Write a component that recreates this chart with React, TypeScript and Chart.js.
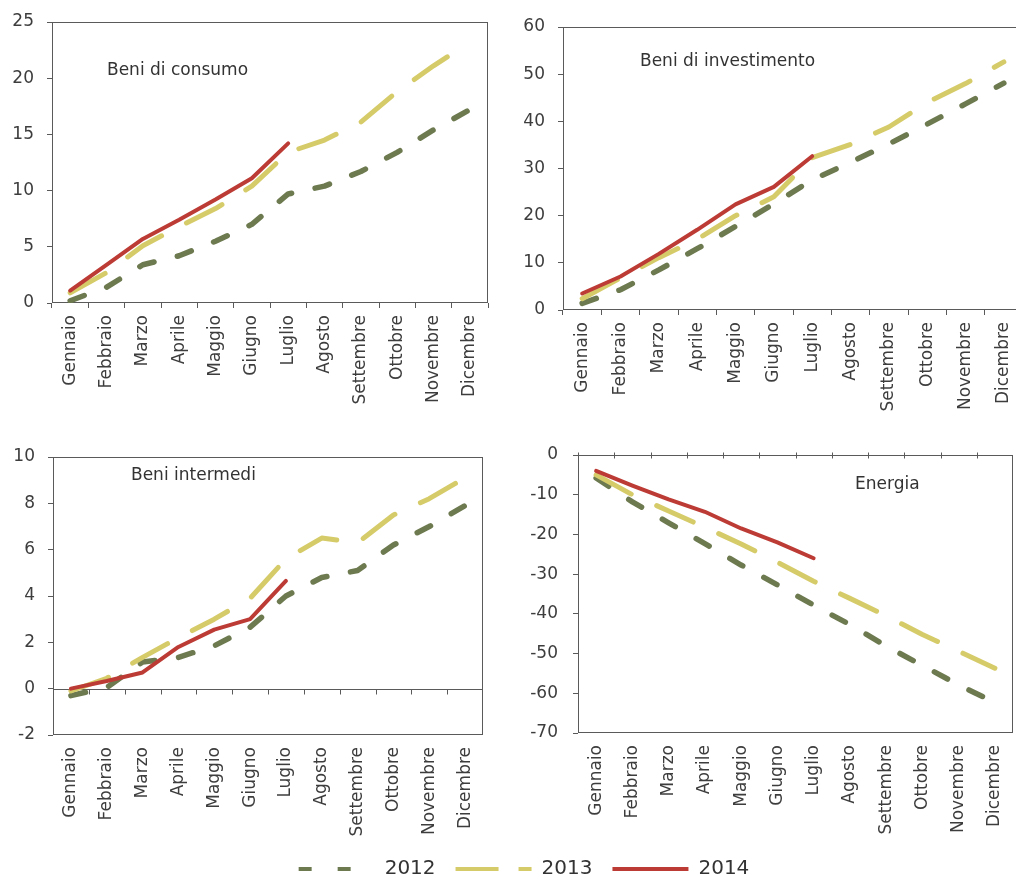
import React, { useEffect, useRef } from "react";
import { Chart, registerables } from "chart.js";

Chart.register(...registerables);

// ---------------- DATA ----------------
const MONTHS = [
  "Gennaio", "Febbraio", "Marzo", "Aprile", "Maggio", "Giugno",
  "Luglio", "Agosto", "Settembre", "Ottobre", "Novembre", "Dicembre",
];
const SERIES_NAMES = ["2012", "2013", "2014"];

const CONSUMO_2012 = [0.2, 1.4, 3.4, 4.2, 5.5, 7.0, 9.7, 10.4, 11.7, 13.4, 15.4, 17.2];
const CONSUMO_2013 = [0.9, 2.7, 5.1, 6.8, 8.4, 10.4, 13.4, 14.5, 16.1, 18.8, 21.1, 23.2];
const CONSUMO_2014 = [1.1, 3.4, 5.7, 7.4, 9.2, 11.1, 14.2];

const INVESTIMENTO_2012 = [1.4, 4.3, 8.5, 13.0, 17.7, 22.5, 27.6, 31.3, 35.2, 39.4, 43.7, 48.1];
const INVESTIMENTO_2013 = [2.4, 6.8, 11.1, 15.0, 20.0, 24.0, 32.3, 35.1, 38.8, 44.0, 48.0, 52.6];
const INVESTIMENTO_2014 = [3.5, 7.1, 11.9, 17.0, 22.4, 26.1, 32.6];

const INTERMEDI_2012 = [-0.3, 0.05, 1.15, 1.35, 1.85, 2.65, 4.0, 4.8, 5.1, 6.2, 7.0, 7.9];
const INTERMEDI_2013 = [-0.1, 0.45, 1.35, 2.2, 3.0, 3.9, 5.6, 6.5, 6.3, 7.5, 8.2, 9.1];
const INTERMEDI_2014 = [0.0, 0.33, 0.7, 1.8, 2.55, 3.0, 4.65];

const ENERGIA_2012 = [-5.8, -11.8, -17.1, -22.3, -27.7, -32.7, -37.8, -42.7, -48.1, -53.0, -57.9, -62.3];
const ENERGIA_2013 = [-5.0, -10.0, -14.1, -18.2, -22.4, -27.0, -31.8, -36.1, -40.5, -45.2, -49.4, -53.7];
const ENERGIA_2014 = [-4.0, -7.7, -11.2, -14.3, -18.5, -22.0, -26.0];

const PANEL_TITLES = ["Beni di consumo", "Beni di investimento", "Beni intermedi", "Energia"];

// ---------------- STYLE ----------------
const FONT_FAMILY = "'DejaVu Sans', sans-serif";
const AXIS_COLOR = "#5a5a5a";
const TEXT_COLOR = "#3d3d3d";
const STYLE_2012 = { color: "#6d7a50", width: 5.5, dash: [15, 24], legendDash: [13, 26] };
const STYLE_2013 = { color: "#d6cb69", width: 5, dash: [40, 28], legendDash: [43, 20] };
const STYLE_2014 = { color: "#bd3b35", width: 4, dash: [] as number[], legendDash: [] as number[] };
const SERIES_STYLES = [STYLE_2012, STYLE_2013, STYLE_2014];

const PAD_TOP = 26;
const PAD_RIGHT = 14;
const Y_AXIS_W = 50;
const X_AXIS_H = 110;

type PanelSpec = {
  title: string;
  d2012: number[];
  d2013: number[];
  d2014: number[];
  min: number;
  max: number;
  step: number;
  area: { left: number; top: number; right: number; bottom: number };
  labelDx: number;
  labelDy: number;
  zeroLine: boolean;
  zeroUp: number;
  zeroDown: number;
  bottomTicks: boolean;
  yPad: number;
};

const PANELS: PanelSpec[] = [
  {
    title: PANEL_TITLES[0], d2012: CONSUMO_2012, d2013: CONSUMO_2013, d2014: CONSUMO_2014,
    min: 0, max: 25, step: 5,
    area: { left: 52, top: 22, right: 488, bottom: 303 },
    labelDx: 55, labelDy: 49, zeroLine: false, zeroUp: 0, zeroDown: 0, bottomTicks: true, yPad: 13,
  },
  {
    title: PANEL_TITLES[1], d2012: INVESTIMENTO_2012, d2013: INVESTIMENTO_2013, d2014: INVESTIMENTO_2014,
    min: 0, max: 60, step: 10,
    area: { left: 563, top: 27, right: 1023, bottom: 310 },
    labelDx: 77, labelDy: 35, zeroLine: false, zeroUp: 0, zeroDown: 0, bottomTicks: true, yPad: 13,
  },
  {
    title: PANEL_TITLES[2], d2012: INTERMEDI_2012, d2013: INTERMEDI_2013, d2014: INTERMEDI_2014,
    min: -2, max: 10, step: 2,
    area: { left: 53, top: 457, right: 483, bottom: 735 },
    labelDx: 78, labelDy: 19, zeroLine: true, zeroUp: 0, zeroDown: 5, bottomTicks: false, yPad: 13,
  },
  {
    title: PANEL_TITLES[3], d2012: ENERGIA_2012, d2013: ENERGIA_2013, d2014: ENERGIA_2014,
    min: -70, max: 0, step: 10,
    area: { left: 578, top: 455, right: 1013, bottom: 733 },
    labelDx: 277, labelDy: 30, zeroLine: true, zeroUp: 3, zeroDown: 3, bottomTicks: false, yPad: 15,
  },
];

const panelDeco = {
  id: "panelDeco",
  beforeDatasetsDraw(chart: any, _args: any, opts: any) {
    const { ctx, chartArea: a, scales } = chart;
    ctx.save();
    ctx.strokeStyle = AXIS_COLOR;
    ctx.lineWidth = 1;
    const l = Math.round(a.left) + 0.5;
    const t = Math.round(a.top) + 0.5;
    const r = Math.round(a.right) - 0.5;
    const b = Math.round(a.bottom) - 0.5;
    ctx.strokeRect(l, t, r - l, b - t);
    if (opts.zeroLine) {
      const y0 = Math.round(scales.y.getPixelForValue(0)) + 0.5;
      ctx.beginPath();
      ctx.moveTo(a.left, y0);
      ctx.lineTo(a.right, y0);
      const n = chart.data.labels.length;
      for (let i = 0; i < n; i++) {
        const x = Math.round(scales.x.getPixelForValue(i - 0.5)) + 0.5;
        ctx.moveTo(x, y0 - opts.zeroUp);
        ctx.lineTo(x, y0 + opts.zeroDown);
      }
      ctx.stroke();
    }
    ctx.restore();
  },
  afterDraw(chart: any, _args: any, opts: any) {
    if (!opts.label) return;
    const { ctx, chartArea: a } = chart;
    ctx.save();
    ctx.font = `17px ${FONT_FAMILY}`;
    ctx.fillStyle = "#333333";
    ctx.textBaseline = "middle";
    ctx.textAlign = "left";
    ctx.fillText(opts.label, a.left + opts.labelDx, a.top + opts.labelDy);
    ctx.restore();
  },
};

function makeDataset(label: string, data: number[], style: any, order: number) {
  return {
    label,
    data,
    borderColor: style.color,
    backgroundColor: style.color,
    borderWidth: style.width,
    borderDash: style.dash,
    borderCapStyle: "round",
    borderJoinStyle: "round",
    pointRadius: 0,
    pointHoverRadius: 0,
    tension: 0,
    fill: false,
    order,
  };
}

function Panel({ spec }: { spec: PanelSpec }) {
  const ref = useRef<HTMLCanvasElement | null>(null);
  useEffect(() => {
    if (!ref.current) return;
    const tickFont = { family: FONT_FAMILY, size: 17 };
    const chart = new Chart(ref.current, {
      type: "line",
      data: {
        labels: MONTHS,
        datasets: [
          makeDataset(SERIES_NAMES[0], spec.d2012, STYLE_2012, 2),
          makeDataset(SERIES_NAMES[1], spec.d2013, STYLE_2013, 1),
          makeDataset(SERIES_NAMES[2], spec.d2014, STYLE_2014, 0),
        ] as any,
      },
      options: {
        animation: false,
        responsive: true,
        maintainAspectRatio: false,
        events: [],
        layout: { padding: { top: PAD_TOP, right: PAD_RIGHT, left: 0, bottom: 0 } },
        scales: {
          x: {
            type: "category",
            offset: true,
            grid: {
              display: true,
              offset: true,
              drawOnChartArea: false,
              drawTicks: true,
              tickLength: 5,
              color: spec.bottomTicks ? AXIS_COLOR : "rgba(0,0,0,0)",
            },
            border: { display: false },
            ticks: {
              autoSkip: false,
              maxRotation: 90,
              minRotation: 90,
              padding: 7,
              font: tickFont,
              color: TEXT_COLOR,
            },
            afterFit: (s: any) => { s.height = X_AXIS_H; },
          },
          y: {
            min: spec.min,
            max: spec.max,
            ticks: { stepSize: spec.step, padding: spec.yPad, font: tickFont, color: TEXT_COLOR },
            grid: { display: true, drawOnChartArea: false, drawTicks: true, tickLength: 5, color: AXIS_COLOR },
            border: { display: false },
            afterFit: (s: any) => { s.width = Y_AXIS_W; },
          },
        } as any,
        plugins: {
          legend: { display: false },
          tooltip: { enabled: false },
          panelDeco: {
            label: spec.title,
            labelDx: spec.labelDx,
            labelDy: spec.labelDy,
            zeroLine: spec.zeroLine,
            zeroUp: spec.zeroUp,
            zeroDown: spec.zeroDown,
          },
        } as any,
      },
      plugins: [panelDeco as any],
    });
    return () => chart.destroy();
  }, [spec]);
  const a = spec.area;
  const box = {
    left: a.left - Y_AXIS_W,
    top: a.top - PAD_TOP,
    width: Y_AXIS_W + (a.right - a.left) + PAD_RIGHT,
    height: PAD_TOP + (a.bottom - a.top) + X_AXIS_H,
  };
  return (
    <div style={{ position: "absolute", left: box.left, top: box.top, width: box.width, height: box.height }}>
      <canvas ref={ref} />
    </div>
  );
}

function LegendChart() {
  const ref = useRef<HTMLCanvasElement | null>(null);
  useEffect(() => {
    if (!ref.current) return;
    const chart = new Chart(ref.current, {
      type: "line",
      data: {
        labels: [],
        datasets: [
          makeDataset(SERIES_NAMES[0], [], STYLE_2012, 0),
          makeDataset(SERIES_NAMES[1], [], STYLE_2013, 1),
          makeDataset(SERIES_NAMES[2], [], STYLE_2014, 2),
        ] as any,
      },
      options: {
        animation: false,
        responsive: true,
        maintainAspectRatio: false,
        events: [],
        layout: { padding: 0 },
        scales: { x: { display: false }, y: { display: false } },
        plugins: {
          tooltip: { enabled: false },
          legend: {
            display: true,
            position: "top",
            labels: {
              usePointStyle: true,
              pointStyle: "line",
              pointStyleWidth: 76,
              padding: 20,
              color: "#333333",
              font: { family: FONT_FAMILY, size: 20 },
              generateLabels: (c: any) =>
                c.data.datasets.map((ds: any, i: number) => ({
                  text: ds.label,
                  fillStyle: ds.borderColor,
                  strokeStyle: ds.borderColor,
                  fontColor: "#333333",
                  lineWidth: 4,
                  lineDash: SERIES_STYLES[i].legendDash,
                  lineCap: "butt",
                  pointStyle: "line",
                  hidden: false,
                  datasetIndex: i,
                })),
            },
          },
        } as any,
      },
    });
    return () => chart.destroy();
  }, []);
  return (
    <div style={{ position: "absolute", left: 224, top: 839, width: 600, height: 110 }}>
      <canvas ref={ref} />
    </div>
  );
}

export default function App() {
  return (
    <div
      style={{
        position: "absolute",
        left: 0,
        top: 0,
        width: 1016,
        height: 880,
        overflow: "hidden",
        background: "#ffffff",
      }}
    >
      {PANELS.map((p) => (
        <Panel key={p.title} spec={p} />
      ))}
      <LegendChart />
    </div>
  );
}
